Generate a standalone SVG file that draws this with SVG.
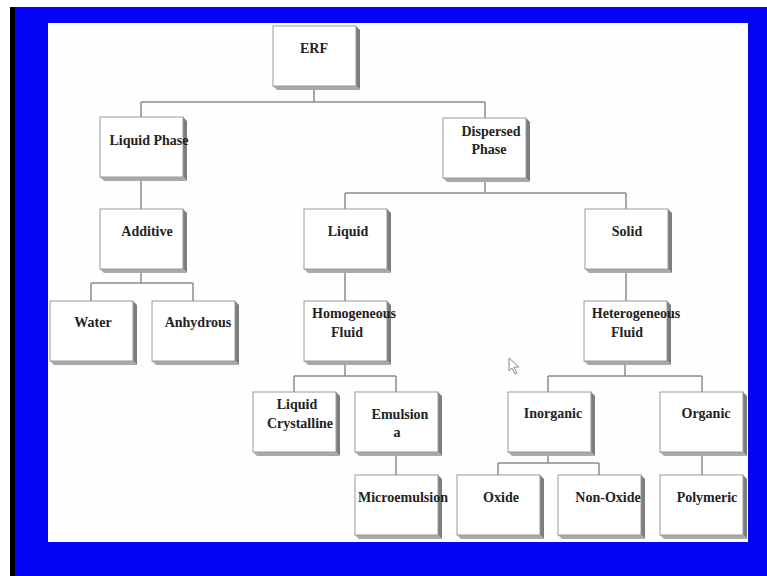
<svg xmlns="http://www.w3.org/2000/svg" xmlns:xlink="http://www.w3.org/1999/xlink" width="767" height="576" viewBox="0 0 767 576">
<style>
.frame{fill:#fff;stroke:#9a9a9a;stroke-width:1}
.side{fill:#7d7d7d}
.bot{fill:#a9a9a9}
.lbl{font-family:"Liberation Serif","Times New Roman",serif;font-weight:bold;font-size:14px;fill:#222;text-anchor:middle}
.conn{fill:none;stroke:#8c8c8c;stroke-width:1.5}
</style>
<defs>
<g id="box">
<polygon class="side" points="83,0 87,4 87,64 83,60"/>
<polygon class="bot" points="0,60 83,60 87,64 4,64"/>
<rect class="frame" x="0" y="0" width="83" height="60"/>
</g>
</defs>
<rect x="0" y="0" width="767" height="576" fill="#fff"/>
<rect x="15" y="7" width="752" height="569" fill="#0303f5"/>
<rect x="10" y="7" width="5" height="569" fill="#000"/>
<rect x="48" y="23" width="700" height="519" fill="#fefefe"/>

<g id="connectors">
<path class="conn" d="M314,86 V102 M141,102 H485 M141,102 V117 M485,102 V118"/>
<path class="conn" d="M485,178 V193 M345,193 H626 M345,193 V209 M626,193 V209"/>
<path class="conn" d="M141,178 V209"/>
<path class="conn" d="M141,270 V283 M91,283 H193 M91,283 V301 M193,283 V301"/>
<path class="conn" d="M345,270 V301 M626,270 V301"/>
<path class="conn" d="M345,361 V376 M294,376 H396 M294,376 V392 M396,376 V392"/>
<path class="conn" d="M625,361 V376 M548,376 H702 M548,376 V392 M702,376 V392"/>
<path class="conn" d="M396,452 V475"/>
<path class="conn" d="M548,452 V463 M498,463 H599 M498,463 V475 M599,463 V475"/>
<path class="conn" d="M702,452 V475"/>
</g>

<g id="erf"><use xlink:href="#box" x="273" y="26"/><text class="lbl" x="314" y="53">ERF</text></g>
<g id="liquid-phase"><use xlink:href="#box" x="100" y="117"/><text class="lbl" x="149" y="145">Liquid Phase</text></g>
<g id="dispersed-phase"><use xlink:href="#box" x="443" y="118"/><text class="lbl" x="491" y="136">Dispersed</text><text class="lbl" x="489" y="154">Phase</text></g>
<g id="additive"><use xlink:href="#box" x="100" y="209"/><text class="lbl" x="147" y="236">Additive</text></g>
<g id="liquid"><use xlink:href="#box" x="304" y="209"/><text class="lbl" x="348" y="236">Liquid</text></g>
<g id="solid"><use xlink:href="#box" x="585" y="209"/><text class="lbl" x="627" y="236">Solid</text></g>
<g id="water"><use xlink:href="#box" x="50" y="301"/><text class="lbl" x="93" y="327">Water</text></g>
<g id="anhydrous"><use xlink:href="#box" x="152" y="301"/><text class="lbl" x="198" y="327">Anhydrous</text></g>
<g id="homogeneous-fluid"><use xlink:href="#box" x="304" y="301"/><text class="lbl" x="354" y="318">Homogeneous</text><text class="lbl" x="347" y="337">Fluid</text></g>
<g id="heterogeneous-fluid"><use xlink:href="#box" x="584" y="301"/><text class="lbl" x="636" y="318">Heterogeneous</text><text class="lbl" x="627" y="337">Fluid</text></g>
<g id="liquid-crystalline"><use xlink:href="#box" x="253" y="392"/><text class="lbl" x="297" y="409">Liquid</text><text class="lbl" x="300" y="428">Crystalline</text></g>
<g id="emulsiona"><use xlink:href="#box" x="355" y="392"/><text class="lbl" x="400" y="419">Emulsion</text><text class="lbl" x="397" y="437">a</text></g>
<g id="inorganic"><use xlink:href="#box" x="508" y="392"/><text class="lbl" x="553" y="418">Inorganic</text></g>
<g id="organic"><use xlink:href="#box" x="660" y="392"/><text class="lbl" x="706" y="418">Organic</text></g>
<g id="microemulsion"><use xlink:href="#box" x="355" y="475"/><text class="lbl" x="403" y="502">Microemulsion</text></g>
<g id="oxide"><use xlink:href="#box" x="457" y="475"/><text class="lbl" x="501" y="502">Oxide</text></g>
<g id="non-oxide"><use xlink:href="#box" x="558" y="475"/><text class="lbl" x="608" y="502">Non-Oxide</text></g>
<g id="polymeric"><use xlink:href="#box" x="660" y="475"/><text class="lbl" x="707" y="502">Polymeric</text></g>

<path d="M509,358 L509,371 L512,368 L515,374 L517,373 L514,367 L519,367 Z" fill="#fff" stroke="#888" stroke-width="1"/>
</svg>
